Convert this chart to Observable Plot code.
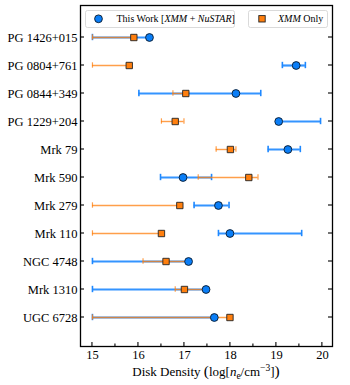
<!DOCTYPE html>
<html><head><meta charset="utf-8">
<script src="https://cdn.jsdelivr.net/npm/d3@7"></script>
<script src="https://cdn.jsdelivr.net/npm/@observablehq/plot@0.6"></script>
<style>body{margin:0;background:#fff} svg{display:block}</style>
</head><body><div id="chart"></div>
<script>
const names = ["PG 1426+015","PG 0804+761","PG 0844+349","PG 1229+204","Mrk 79","Mrk 590","Mrk 279","Mrk 110","NGC 4748","Mrk 1310","UGC 6728"];
const jointVal = [16.24, 19.43, 18.12, 19.05, 19.25, 16.97, 17.74, 17.99, 17.09, 17.47, 17.65];
const jointLo  = [15.00, 19.13, 16.01, 19.05, 18.82, 16.48, 17.21, 17.74, 15.00, 15.00, 15.00];
const jointHi  = [16.24, 19.63, 18.66, 19.96, 19.52, 17.59, 17.97, 19.55, 17.09, 17.47, 17.65];
const xmmVal = [15.90, 15.80, 17.03, 16.80, 18.00, 18.40, 16.90, 16.50, 16.60, 17.00, 17.99];
const xmmLo  = [15.00, 15.00, 16.75, 16.50, 17.69, 17.30, 15.00, 15.00, 16.10, 16.80, 15.00];
const xmmHi  = [15.90, 15.80, 17.05, 16.99, 18.12, 18.60, 16.90, 16.50, 17.05, 17.45, 17.99];
const xTicks = [15, 16, 17, 18, 19, 20];
const xMinor = [15.5, 16.5, 17.5, 18.5, 19.5];

const joint = names.map((n, i) => ({name: n, v: jointVal[i], lo: jointLo[i], hi: jointHi[i]}));
const xmm = names.map((n, i) => ({name: n, v: xmmVal[i], lo: xmmLo[i], hi: xmmHi[i]}));

const blueLine = "#1e88ff", blueFill = "#0a7ef7", orange = "#ff7f0e";
const W = 350, H = 385, mL = 80, mR = 18, mT = 5, mB = 39;
const font = "Liberation Serif, DejaVu Serif, serif";
const step = 28.23;

const plot = Plot.plot({
  width: W, height: H,
  marginLeft: mL, marginRight: mR, marginTop: mT, marginBottom: mB,
  style: {fontFamily: font, fontSize: "12.5px", background: "#fff", color: "#000"},
  x: {domain: [14.74, 20.22]},
  y: {type: "band", domain: names, range: [36 - step / 2, 36 + step * 10.5], padding: 0},
  marks: [
    Plot.ruleY(joint, {y: "name", x1: "lo", x2: "hi", stroke: blueLine, strokeWidth: 2.2, strokeOpacity: 0.9}),
    Plot.tickX(joint, {y: "name", x: "lo", stroke: blueLine, strokeWidth: 1.6, insetTop: (step - 6.6) / 2, insetBottom: (step - 6.6) / 2}),
    Plot.tickX(joint, {y: "name", x: "hi", stroke: blueLine, strokeWidth: 1.6, insetTop: (step - 6.6) / 2, insetBottom: (step - 6.6) / 2}),
    Plot.ruleY(xmm, {y: "name", x1: "lo", x2: "hi", stroke: orange, strokeWidth: 1.4, strokeOpacity: 0.75}),
    Plot.tickX(xmm, {y: "name", x: "lo", stroke: orange, strokeWidth: 1.2, strokeOpacity: 0.75, insetTop: (step - 5.6) / 2, insetBottom: (step - 5.6) / 2}),
    Plot.tickX(xmm, {y: "name", x: "hi", stroke: orange, strokeWidth: 1.2, strokeOpacity: 0.75, insetTop: (step - 5.6) / 2, insetBottom: (step - 5.6) / 2}),
    Plot.dot(joint, {x: "v", y: "name", r: 3.9, fill: blueFill, stroke: "#0b1a2a", strokeWidth: 0.9}),
    Plot.dot(xmm, {x: "v", y: "name", symbol: "square", r: 3.6, fill: orange, stroke: "#222", strokeWidth: 0.9}),
    Plot.axisX({ticks: xTicks, tickSize: 0, tickPadding: 4, tickFormat: d => String(d), fontSize: 12.5, fontFamily: font, label: null}),
    Plot.axisY({tickSize: 0, tickPadding: 3, fontSize: 12.5, fontFamily: font, label: null}),
    Plot.frame({stroke: "#000", strokeWidth: 1.3})
  ]
});

const svg = d3.select(plot);
svg.style("font-family", font);
svg.selectAll("text").attr("font-family", font).style("font-family", font);
const xs = plot.scale("x"), ys = plot.scale("y");
const bw = ys.bandwidth || 0;
const bottom = H - mB, right = W - mR;
const tg = svg.append("g").attr("stroke", "#000").attr("stroke-width", 1.1);
xTicks.forEach(t => { const x = xs.apply(t); tg.append("line").attr("x1", x).attr("x2", x).attr("y1", bottom).attr("y2", bottom - 4); });
xMinor.forEach(t => { const x = xs.apply(t); tg.append("line").attr("x1", x).attr("x2", x).attr("y1", bottom).attr("y2", bottom - 2.5); });
names.forEach(n => {
  const y = ys.apply(n) + bw / 2;
  tg.append("line").attr("x1", mL).attr("x2", mL + 4).attr("y1", y).attr("y2", y);
  tg.append("line").attr("x1", right).attr("x2", right - 4).attr("y1", y).attr("y2", y);
});

// x label
const lbl = svg.append("text").attr("x", (mL + right) / 2).attr("y", 376)
  .attr("text-anchor", "middle").attr("font-family", font).attr("font-size", 13).attr("fill", "#000");
lbl.append("tspan").text("Disk Density ");
lbl.append("tspan").attr("font-size", 15.5).text("(");
lbl.append("tspan").text("log[");
lbl.append("tspan").attr("font-style", "italic").text("n");
lbl.append("tspan").attr("font-size", 9.5).attr("dy", 2.5).text("e");
lbl.append("tspan").attr("dy", -2.5).text("/cm");
lbl.append("tspan").attr("font-size", 9.5).attr("dy", -5).text("−3");
lbl.append("tspan").attr("dy", 5).text("]");
lbl.append("tspan").attr("font-size", 15.5).text(")");

// legend
const lg = svg.append("g").attr("font-family", font).attr("font-size", 10).attr("text-anchor", "start").attr("fill", "#000");
lg.append("rect").attr("x", 85.5).attr("y", 10.5).attr("width", 149).attr("height", 17).attr("rx", 2)
  .attr("fill", "#fff").attr("stroke", "#d0d0d0").attr("stroke-width", 0.8);
lg.append("circle").attr("cx", 98.5).attr("cy", 18.8).attr("r", 3.9).attr("fill", blueFill).attr("stroke", "#0b1a2a").attr("stroke-width", 0.9);
const t1 = lg.append("text").attr("x", 116.5).attr("y", 22.3).attr("text-anchor", "start");
t1.append("tspan").text("This Work [");
t1.append("tspan").attr("font-style", "italic").text("XMM");
t1.append("tspan").text(" + ");
t1.append("tspan").attr("font-style", "italic").text("NuSTAR");
t1.append("tspan").text("]");
lg.append("rect").attr("x", 248.5).attr("y", 10.5).attr("width", 79).attr("height", 17).attr("rx", 2)
  .attr("fill", "#fff").attr("stroke", "#d0d0d0").attr("stroke-width", 0.8);
lg.append("rect").attr("x", 258.8).attr("y", 15.6).attr("width", 6.4).attr("height", 6.4).attr("fill", orange).attr("stroke", "#222").attr("stroke-width", 0.9);
const t2 = lg.append("text").attr("x", 278).attr("y", 22.3).attr("text-anchor", "start");
t2.append("tspan").attr("font-style", "italic").text("XMM");
t2.append("tspan").text(" Only");

document.getElementById("chart").appendChild(plot);
</script>
</body></html>
